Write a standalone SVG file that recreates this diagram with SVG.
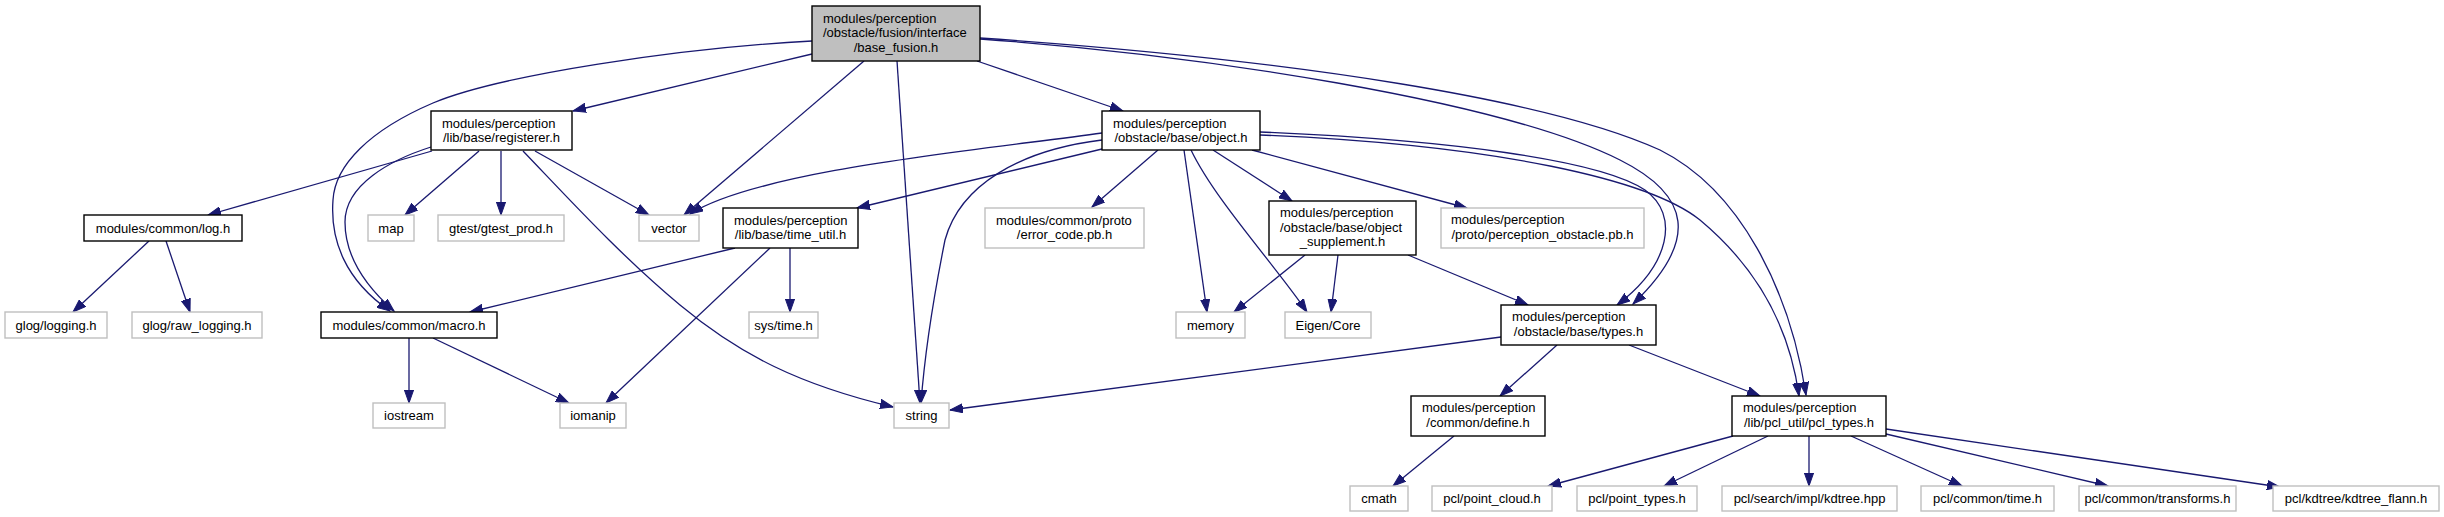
<svg xmlns="http://www.w3.org/2000/svg" width="2444" height="517" viewBox="0 0 2444 517">
<style>
  text { font-family: "Liberation Sans", Arial, sans-serif; font-size: 13px; fill: #000; }
  .c { text-anchor: middle; }
  .n rect { fill: #fff; stroke: #000; stroke-width: 1.4; }
  .x rect { fill: #fff; stroke: #bfbfbf; stroke-width: 1.4; }
  .m rect { fill: #bfbfbf; stroke: #000; stroke-width: 1.4; }
  .e path { fill: none; stroke: #191970; stroke-width: 1.3; marker-end: url(#ah); }
</style>
<defs>
  <marker id="ah" viewBox="0 0 14 10" markerWidth="14" markerHeight="10" refX="13" refY="5" orient="auto" markerUnits="userSpaceOnUse">
    <path d="M0,0.4 L13,5 L0,9.6 z" fill="#191970" stroke="#191970" stroke-width="1"/>
  </marker>
</defs>
<rect x="0" y="0" width="2444" height="517" fill="#fff"/>
<g id="edges" class="e">
  <!-- main -->
  <path d="M812,54 C 730,74 650,92 573,111"/>
  <path d="M812,41 C 680,48 500,75 433,103 C 370,130 335,165 333,200 C 330,240 345,280 390,311"/>
  <path d="M864,61 L684,215"/>
  <path d="M897,61 L920,403"/>
  <path d="M977,61 L1123,111"/>
  <path d="M980,39 C 1200,55 1500,100 1620,160 C 1690,195 1700,240 1633,304"/>
  <path d="M980,38 C 1300,60 1550,100 1660,150 C 1740,190 1790,290 1806,395"/>
  <!-- registerer -->
  <path d="M432,151 L208,215"/>
  <path d="M479,151 L405,215"/>
  <path d="M501,151 L501,215"/>
  <path d="M535,151 L649,215"/>
  <path d="M523,151 C 570,200 620,255 680,305 C 740,355 800,385 893,407"/>
  <path d="M431,147 C 390,160 345,185 345,222 C 345,260 370,290 394,311"/>
  <!-- object -->
  <path d="M1102,133 C 980,150 760,170 690,214"/>
  <path d="M1102,149 L857,208"/>
  <path d="M1102,140 C 1020,150 960,185 945,240 C 935,290 925,350 921,403"/>
  <path d="M1158,150 L1092,207"/>
  <path d="M1184,150 L1207,312"/>
  <path d="M1191,150 C 1215,200 1275,265 1307,312"/>
  <path d="M1213,150 L1292,201"/>
  <path d="M1252,150 L1467,208"/>
  <path d="M1260,132 C 1450,140 1600,160 1645,190 C 1680,215 1670,265 1617,305"/>
  <path d="M1260,135 C 1500,145 1650,180 1700,220 C 1760,270 1790,330 1799,396"/>
  <!-- log -->
  <path d="M149,241 L73,312"/>
  <path d="M166,241 L190,312"/>
  <!-- time_util -->
  <path d="M735,248 L470,312"/>
  <path d="M770,248 L606,403"/>
  <path d="M790,248 L790,312"/>
  <!-- supplement -->
  <path d="M1305,255 L1234,312"/>
  <path d="M1338,255 L1331,312"/>
  <path d="M1408,255 L1528,305"/>
  <!-- macro -->
  <path d="M409,338 L409,403"/>
  <path d="M433,338 L569,403"/>
  <!-- types -->
  <path d="M1501,337 L950,410"/>
  <path d="M1557,345 L1500,396"/>
  <path d="M1629,345 L1760,396"/>
  <!-- define -->
  <path d="M1454,436 L1393,486"/>
  <!-- pcl_types -->
  <path d="M1733,436 L1548,486"/>
  <path d="M1768,436 L1664,486"/>
  <path d="M1809,436 L1809,486"/>
  <path d="M1851,436 L1962,486"/>
  <path d="M1886,434 L2108,486"/>
  <path d="M1886,429 L2280,487"/>
</g>

<g id="node-main" class="m">
  <rect x="812" y="6" width="168" height="55"/>
  <text x="823" y="22.5">modules/perception</text>
  <text x="823" y="37">/obstacle/fusion/interface</text>
  <text class="c" x="896" y="51.5">/base_fusion.h</text>
</g>
<g id="node-registerer" class="n">
  <rect x="431" y="111" width="141" height="39"/>
  <text x="442" y="127.5">modules/perception</text>
  <text class="c" x="501.5" y="141.5">/lib/base/registerer.h</text>
</g>
<g id="node-object" class="n">
  <rect x="1102" y="111" width="158" height="39"/>
  <text x="1113" y="127.5">modules/perception</text>
  <text class="c" x="1181" y="141.5">/obstacle/base/object.h</text>
</g>
<g id="node-log" class="n">
  <rect x="84" y="215" width="158" height="26"/>
  <text class="c" x="163" y="232.5">modules/common/log.h</text>
</g>
<g id="node-map" class="x">
  <rect x="368" y="215" width="46" height="26"/>
  <text class="c" x="391" y="232.5">map</text>
</g>
<g id="node-gtest" class="x">
  <rect x="438" y="215" width="126" height="26"/>
  <text class="c" x="501" y="232.5">gtest/gtest_prod.h</text>
</g>
<g id="node-vector" class="x">
  <rect x="639" y="215" width="60" height="26"/>
  <text class="c" x="669" y="232.5">vector</text>
</g>
<g id="node-time_util" class="n">
  <rect x="723" y="208" width="135" height="40"/>
  <text x="734" y="224.5">modules/perception</text>
  <text class="c" x="790.5" y="238.5">/lib/base/time_util.h</text>
</g>
<g id="node-error_code" class="x">
  <rect x="985" y="208" width="159" height="40"/>
  <text x="996" y="224.5">modules/common/proto</text>
  <text class="c" x="1064.5" y="238.5">/error_code.pb.h</text>
</g>
<g id="node-supplement" class="n">
  <rect x="1269" y="201" width="147" height="54"/>
  <text x="1280" y="217">modules/perception</text>
  <text x="1280" y="231.5">/obstacle/base/object</text>
  <text class="c" x="1342.5" y="246">_supplement.h</text>
</g>
<g id="node-pb" class="x">
  <rect x="1441" y="208" width="203" height="40"/>
  <text x="1451" y="224">modules/perception</text>
  <text class="c" x="1542.5" y="238.5">/proto/perception_obstacle.pb.h</text>
</g>
<g id="node-glog_logging" class="x">
  <rect x="5" y="312" width="102" height="26"/>
  <text class="c" x="56" y="329.5">glog/logging.h</text>
</g>
<g id="node-glog_raw" class="x">
  <rect x="132" y="312" width="130" height="26"/>
  <text class="c" x="197" y="329.5">glog/raw_logging.h</text>
</g>
<g id="node-macro" class="n">
  <rect x="321" y="312" width="176" height="26"/>
  <text class="c" x="409" y="329.5">modules/common/macro.h</text>
</g>
<g id="node-sys_time" class="x">
  <rect x="749" y="312" width="69" height="26"/>
  <text class="c" x="783.5" y="329.5">sys/time.h</text>
</g>
<g id="node-memory" class="x">
  <rect x="1176" y="312" width="69" height="26"/>
  <text class="c" x="1210.5" y="329.5">memory</text>
</g>
<g id="node-eigen" class="x">
  <rect x="1285" y="312" width="86" height="26"/>
  <text class="c" x="1328" y="329.5">Eigen/Core</text>
</g>
<g id="node-types" class="n">
  <rect x="1501" y="305" width="155" height="40"/>
  <text x="1512" y="321">modules/perception</text>
  <text class="c" x="1578.5" y="335.5">/obstacle/base/types.h</text>
</g>
<g id="node-iostream" class="x">
  <rect x="373" y="403" width="72" height="25"/>
  <text class="c" x="409" y="420">iostream</text>
</g>
<g id="node-iomanip" class="x">
  <rect x="560" y="403" width="66" height="25"/>
  <text class="c" x="593" y="420">iomanip</text>
</g>
<g id="node-string" class="x">
  <rect x="894" y="403" width="55" height="25"/>
  <text class="c" x="921.5" y="420">string</text>
</g>
<g id="node-define" class="n">
  <rect x="1411" y="396" width="134" height="40"/>
  <text x="1422" y="412">modules/perception</text>
  <text class="c" x="1478" y="427">/common/define.h</text>
</g>
<g id="node-pcl_types" class="n">
  <rect x="1732" y="396" width="154" height="40"/>
  <text x="1743" y="412">modules/perception</text>
  <text class="c" x="1809" y="427">/lib/pcl_util/pcl_types.h</text>
</g>
<g id="node-cmath" class="x">
  <rect x="1350" y="486" width="58" height="25"/>
  <text class="c" x="1379" y="503">cmath</text>
</g>
<g id="node-point_cloud" class="x">
  <rect x="1432" y="486" width="120" height="25"/>
  <text class="c" x="1492" y="503">pcl/point_cloud.h</text>
</g>
<g id="node-point_types" class="x">
  <rect x="1577" y="486" width="120" height="25"/>
  <text class="c" x="1637" y="503">pcl/point_types.h</text>
</g>
<g id="node-kdtree_hpp" class="x">
  <rect x="1722" y="486" width="175" height="25"/>
  <text class="c" x="1809.5" y="503">pcl/search/impl/kdtree.hpp</text>
</g>
<g id="node-common_time" class="x">
  <rect x="1921" y="486" width="133" height="25"/>
  <text class="c" x="1987.5" y="503">pcl/common/time.h</text>
</g>
<g id="node-transforms" class="x">
  <rect x="2079" y="486" width="157" height="25"/>
  <text class="c" x="2157.5" y="503">pcl/common/transforms.h</text>
</g>
<g id="node-kdtree_flann" class="x">
  <rect x="2273" y="486" width="166" height="25"/>
  <text class="c" x="2356" y="503">pcl/kdtree/kdtree_flann.h</text>
</g>
</svg>
